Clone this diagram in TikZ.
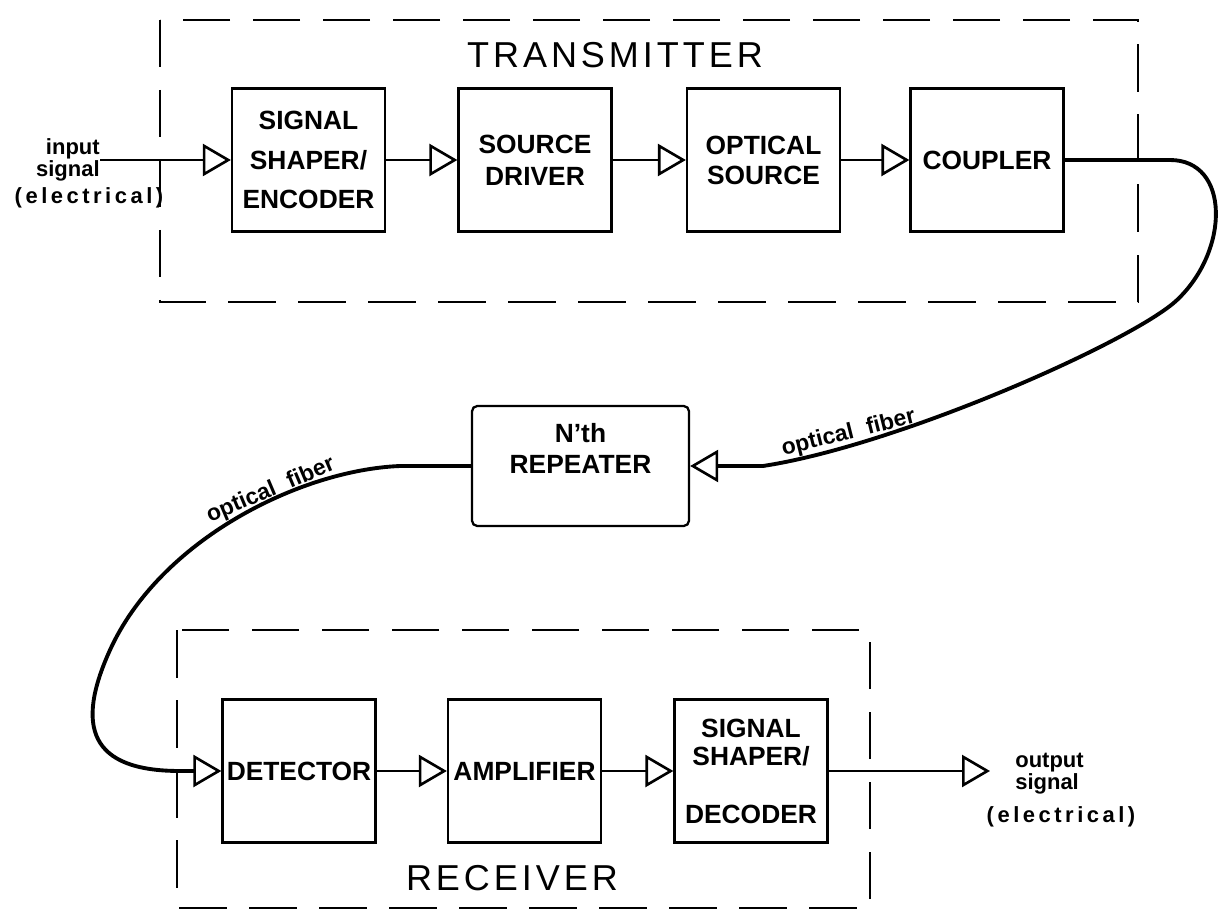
\documentclass[tikz,border=0pt]{standalone}
\usepackage{fontspec}
\setmainfont{Liberation Sans}
\newfontfamily\spacedfont[LetterSpace=11]{Liberation Sans}
\newfontfamily\widefont[LetterSpace=16]{Liberation Sans}
\usetikzlibrary{arrows.meta,positioning}

\begin{document}
\begin{tikzpicture}[
    blk/.style={draw, line width=1.3pt, minimum width=3.06cm, minimum height=2.86cm, inner sep=0pt, align=center, font=\bfseries\fontsize{15}{16}\selectfont},
    frame/.style={line width=1.4pt, dash pattern=on 9.5mm off 4.5mm},
    ttl/.style={font=\spacedfont\fontsize{20.5}{22}\selectfont},
    arr/.style={-{Triangle[open, length=5.6mm, width=6.4mm, line width=1.5pt]}, line width=1.1pt},
    fiber/.style={arr, line width=2.2pt},
    lbl/.style={font=\bfseries\fontsize{12.5}{11}\selectfont, inner sep=0pt},
    flbl/.style={font=\bfseries\fontsize{13}{13}\selectfont, inner sep=0pt, anchor=base}
]
\useasboundingbox (0,0) rectangle (24.36,-18.22);

\draw[frame] (3.2,-0.4) rectangle (22.76,-6.04);
\draw[frame] (3.54,-12.6) rectangle (17.4,-18.16);
\node[ttl] (txtitle) at (12.3,-1.1) {TRANSMITTER};
\node[ttl] (rxtitle) at (10.24,-17.56) {RECEIVER};

\node[blk] (enc) at (6.17,-3.2) {SIGNAL\\[6.5pt]SHAPER/\\[6.5pt]ENCODER};
\node[blk] (drv) at (10.7,-3.2) {SOURCE\\[2pt]DRIVER};
\node[blk] (src) at (15.27,-3.2) {OPTICAL\\[1pt]SOURCE};
\node[blk] (cpl) at (19.74,-3.2) {COUPLER};

\node[blk, rounded corners=3pt, minimum width=4.34cm, minimum height=2.4cm] (rep) at (11.61,-9.32) {N'th\\[2pt]REPEATER\rule[-0.7cm]{0pt}{0pt}};

\node[blk] (det) at (5.98,-15.42) {DETECTOR};
\node[blk] (amp) at (10.49,-15.42) {AMPLIFIER};
\node[blk] (dec) at (15.02,-15.42) {SIGNAL\\SHAPER/\\[17pt]DECODER};

\node[lbl, align=right, anchor=east] (inlbl) at (2.0,-3.2) {input\\signal};
\node[lbl] (inelec) at (1.78,-3.96) {\widefont\bfseries(electrical)};
\node[lbl, align=left, anchor=west] (outlbl) at (20.3,-15.48) {output\\signal};
\node[lbl] (outelec) at (21.22,-16.34) {\widefont\bfseries(electrical)};
\coordinate (out) at (19.8,-15.42);

\node[flbl, rotate=14] (fibR) at (17.0,-8.78) {optical\hspace{0.6em}fiber};
\node[flbl, rotate=23] (fibL) at (5.46,-9.92) {optical\hspace{0.6em}fiber};

\draw[arr] (inlbl.east) -- (enc);
\draw[arr] (enc) -- (drv);
\draw[arr] (drv) -- (src);
\draw[arr] (src) -- (cpl);
\draw[fiber] (cpl.east) -- (23.4,-3.2) .. controls (24.6,-3.2) and (24.6,-5.0) .. (23.54,-6.0)
    .. controls (22.7,-6.8) and (18.0,-8.9) .. (15.26,-9.32) -- (rep.east);
\draw[fiber] (rep.west) -- (8.0,-9.32) .. controls (6.0,-9.4) and (3.2,-10.8) .. (2.2,-13.0)
    .. controls (1.5,-14.54) and (1.8,-15.42) .. (3.6,-15.42) -- (det.west);
\draw[arr] (det) -- (amp);
\draw[arr] (amp) -- (dec);
\draw[arr] (dec) -- (out);
\end{tikzpicture}
\end{document}
